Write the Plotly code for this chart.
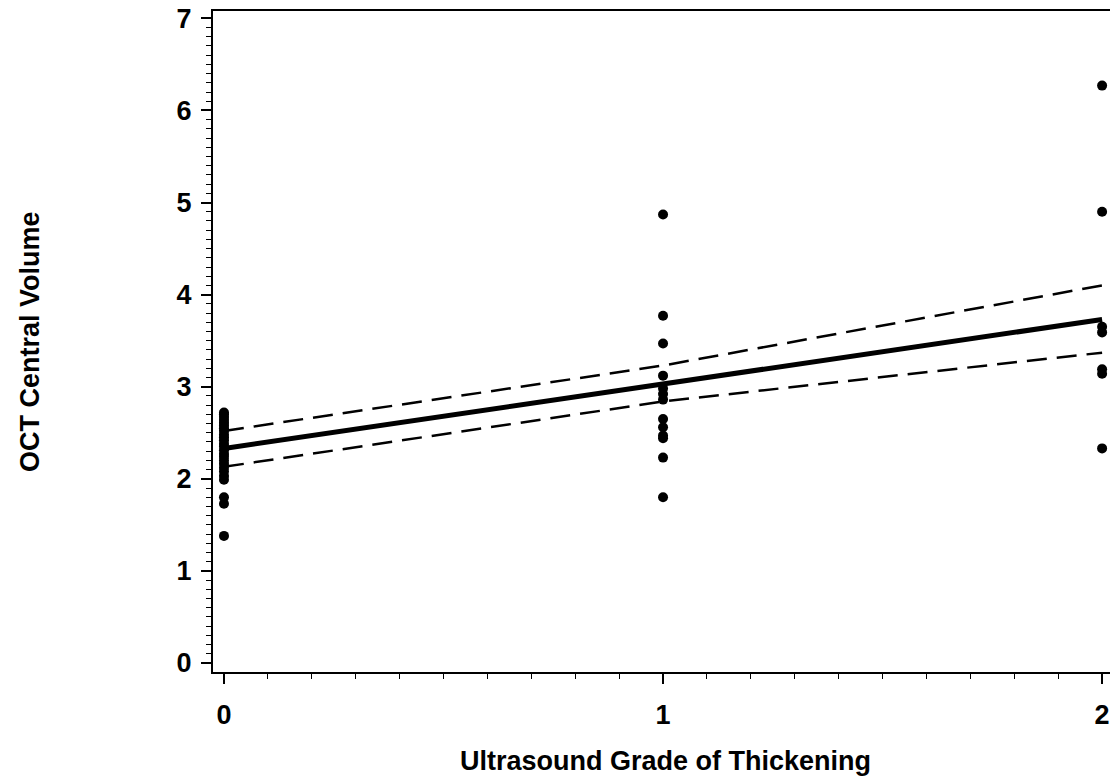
import plotly.graph_objects as go

# Data
grade0_y = [1.38, 1.73, 1.80, 1.99, 2.03, 2.08, 2.12, 2.16, 2.20, 2.24, 2.27, 2.31, 2.35,
            2.38, 2.42, 2.45, 2.48, 2.52, 2.55, 2.58, 2.61, 2.64, 2.67, 2.70, 2.72]
grade1_y = [4.87, 3.77, 3.47, 3.12, 2.98, 2.92, 2.86, 2.65, 2.56, 2.47, 2.44, 2.23, 1.80]
grade2_y = [6.27, 4.90, 3.65, 3.59, 3.19, 3.14, 2.33]

fit_x = [0, 1, 2]
fit_y = [2.33, 3.03, 3.73]
upper_y = [2.52, 3.23, 4.10]
lower_y = [2.13, 2.84, 3.37]

x_ticks = [0, 1, 2]
y_ticks = [0, 1, 2, 3, 4, 5, 6, 7]

FONT = "Liberation Sans"

fig = go.Figure()
pts_x = [0] * len(grade0_y) + [1] * len(grade1_y) + [2] * len(grade2_y)
pts_y = grade0_y + grade1_y + grade2_y
fig.add_trace(go.Scatter(x=pts_x, y=pts_y, mode="markers",
                         marker=dict(color="black", size=10), showlegend=False))
fig.add_trace(go.Scatter(x=fit_x, y=upper_y, mode="lines",
                         line=dict(color="black", width=2.5, dash="20px,10px"), showlegend=False))
fig.add_trace(go.Scatter(x=fit_x, y=lower_y, mode="lines",
                         line=dict(color="black", width=2.5, dash="20px,10px"), showlegend=False))
fig.add_trace(go.Scatter(x=fit_x, y=fit_y, mode="lines",
                         line=dict(color="black", width=5), showlegend=False))

fig.update_layout(
    width=1110, height=777,
    margin=dict(l=213, r=0, t=11, b=105),
    paper_bgcolor="white", plot_bgcolor="white",
    font=dict(family=FONT, color="black"),
    xaxis=dict(range=[-0.025, 2.018], tickvals=x_ticks, ticktext=[str(v) for v in x_ticks],
               showgrid=False, zeroline=False, showline=True, linecolor="black", linewidth=2,
               mirror=True, ticks="outside", ticklen=10, tickwidth=1.5, tickcolor="black",
               tickfont=dict(family=FONT, size=27, color="black", weight="bold"),
               minor=dict(dtick=0.1, ticks="outside", ticklen=5, tickwidth=1, tickcolor="black"),
               ticklabelstandoff=8),
    yaxis=dict(range=[-0.098, 7.08], tickvals=y_ticks, ticktext=[str(v) for v in y_ticks],
               showgrid=False, zeroline=False, showline=True, linecolor="black", linewidth=2,
               mirror=False, ticks="outside", ticklen=10, tickwidth=1.5, tickcolor="black",
               tickfont=dict(family=FONT, size=27, color="black", weight="bold"),
               minor=dict(dtick=0.1, ticks="outside", ticklen=5, tickwidth=1, tickcolor="black"),
               ticklabelstandoff=4),
    annotations=[
        dict(text="<b>Ultrasound Grade of Thickening</b>", xref="paper", yref="paper",
             x=(665 - 213) / 897, y=0, yshift=-89, xanchor="center", yanchor="middle",
             showarrow=False, font=dict(family=FONT, size=27, color="black")),
        dict(text="<b>OCT Central Volume</b>", xref="paper", yref="paper",
             x=0, xshift=-183, y=(672 - 342) / 661, xanchor="center", yanchor="middle",
             textangle=-90, showarrow=False, font=dict(family=FONT, size=27, color="black")),
    ],
)

fig.write_html("out.html")
